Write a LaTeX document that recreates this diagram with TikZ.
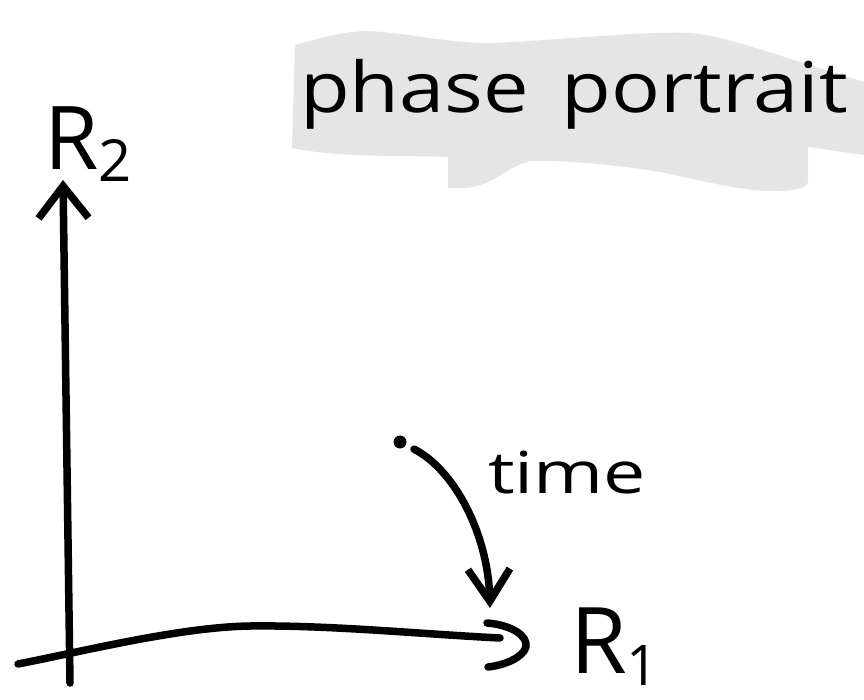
\documentclass[tikz,border=0pt]{standalone}
\usepackage{fontspec}
\setmainfont{Open Sans}
\usetikzlibrary{arrows.meta}
\tikzset{
  ink/.style={line width=7.5pt, line cap=round, line join=round, black},
  hand/.style={inner sep=0pt, outer sep=0pt, text=black},
  marker/.style={fill=gray!20, draw=none},
  startdot/.style={circle, fill=black, inner sep=0pt, minimum size=13pt},
}
\begin{document}
\begin{tikzpicture}[x=1pt,y=-1pt]
\useasboundingbox (0,0) rectangle (864,700);

% highlighter band behind the title
\path[marker] (295,45) .. controls (320,38) and (345,31) .. (368,31)
  .. controls (410,33) and (450,44) .. (495,43)
  .. controls (560,40) and (640,31) .. (690,33)
  .. controls (725,35) and (790,60) .. (864,82)
  -- (864,155) -- (808,147) -- (808,182)
  .. controls (806,190) and (790,191) .. (770,191)
  .. controls (735,190) and (700,180) .. (660,172)
  .. controls (610,164) and (560,160) .. (530,161)
  .. controls (505,168) and (490,187) .. (465,188)
  -- (448,188) -- (448,157)
  .. controls (400,155) and (340,158) .. (292,148) -- cycle;

% title
\node[hand, anchor=base west] (title) at (300,113)
  {\scalebox{1.16}[1]{\fontsize{70}{70}\selectfont phase\hspace{28pt}portrait}};

% vertical axis
\coordinate (ybot) at (70,683);
\coordinate (ytop) at (63,180);
\draw[ink, -{Straight Barb[length=32pt,width=50pt]}] (ybot) -- (ytop);

% horizontal axis, ending in a hooked head
\coordinate (xleft) at (18,664);
\coordinate (xright) at (500,638);
\draw[ink] (xleft)
  .. controls (80,652) and (180,627) .. (250,626)
  .. controls (330,625) and (420,634) .. (xright);
\draw[ink] (487,623) .. controls (512,625) and (528,636) .. (526,647)
  .. controls (523,657) and (506,665) .. (488,667);

% axis labels
\node[hand, anchor=base west] (r2) at (44,170)
  {\fontsize{88}{88}\selectfont R\raisebox{-12pt}{\fontsize{58}{58}\selectfont 2}};
\node[hand, anchor=base west] (r1) at (570,673)
  {\fontsize{92}{92}\selectfont R\raisebox{-12pt}{\fontsize{56}{56}\selectfont 1}};

% trajectory in time
\node[startdot] (start) at (400,442) {};
\coordinate (hit) at (490,608);
\draw[ink, shorten <=9pt, -{Straight Barb[length=32pt,width=42pt]}] (start)
  .. controls (455,470) and (488,535) .. (hit);
\node[hand, anchor=base west] (time) at (488,493)
  {\scalebox{1.3}[1]{\fontsize{58}{58}\selectfont time}};
\end{tikzpicture}
\end{document}
